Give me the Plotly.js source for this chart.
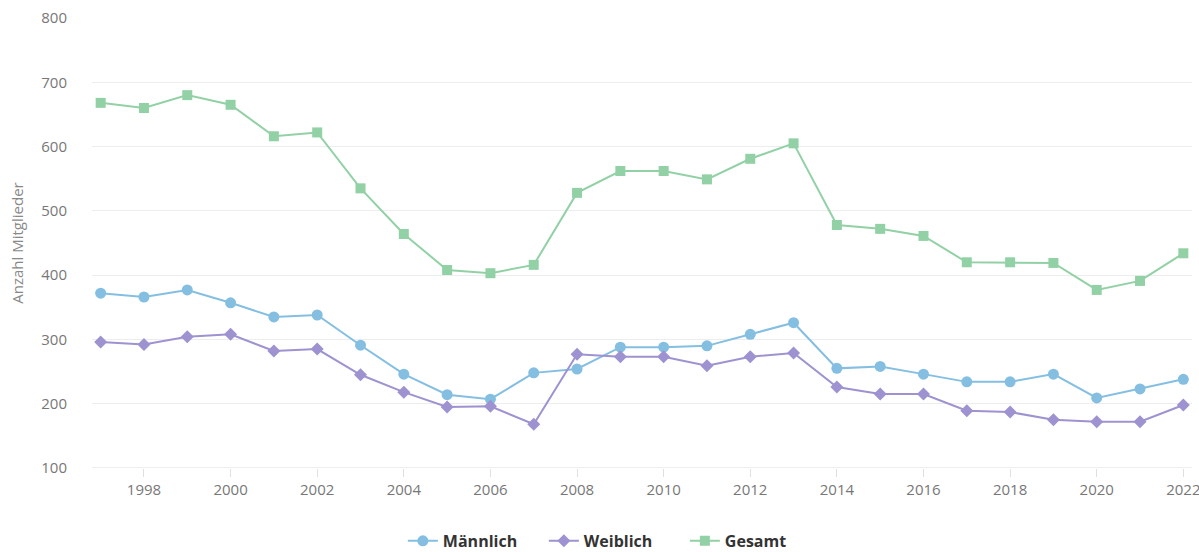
<!DOCTYPE html>
<html>
<head>
<meta charset="utf-8">
<script src="https://cdn.plot.ly/plotly-3.0.1.min.js"></script>
<style>html,body{margin:0;padding:0;background:#fff;}#chart{width:1199px;height:552px;}</style>
</head>
<body>
<div id="chart"></div>
<script>
const years = [1997,1998,1999,2000,2001,2002,2003,2004,2005,2006,2007,2008,2009,2010,2011,2012,2013,2014,2015,2016,2017,2018,2019,2020,2021,2022];
const maennlich = [372,366,377,357,335,338,291,246,214,207,248,254,288,288,290,308,326,255,258,246,234,234,246,209,223,238];
const weiblich = [296,292,304,308,282,285,245,218,195,196,168,277,273,273,259,273,279,226,215,215,189,187,175,172,172,198];
const gesamt = [668,660,680,665,616,622,535,464,408,403,416,528,562,562,549,581,605,478,472,461,420,420,419,377,391,434];
const xTicks = [1998,2000,2002,2004,2006,2008,2010,2012,2014,2016,2018,2020,2022];
const yTicks = [100,200,300,400,500,600,700,800];

const font = "'Open Sans', 'DejaVu Sans', sans-serif";
function tr(name, y, color, symbol, size) {
  return {x: years, y: y, name: name, type: 'scatter', mode: 'lines+markers', cliponaxis: false,
    line: {color: color, width: 2}, marker: {color: color, symbol: symbol, size: size}};
}
const data = [
  tr('Männlich', maennlich, '#84bfe2', 'circle', 11),
  tr('Weiblich', weiblich, '#9e92d0', 'diamond', 10),
  tr('Gesamt', gesamt, '#92d1a5', 'square', 10)
];
const layout = {
  width: 1199, height: 552,
  margin: {l: 92, r: 7, t: 18, b: 84, autoexpand: false},
  paper_bgcolor: '#fff', plot_bgcolor: '#fff',
  showlegend: true,
  legend: {orientation: 'h', xref: 'container', yref: 'container', x: 0.336, xanchor: 'left', y: 0.02, yanchor: 'middle',
    font: {family: font, size: 16, color: '#333', weight: 'bold'}, itemwidth: 30, entrywidth: 96, tracegroupgap: 0},
  xaxis: {range: [1996.8, 2022.2], tickvals: xTicks, ticktext: xTicks.map(String), automargin: false,
    showgrid: false, zeroline: false, showline: false, ticklabeloverflow: 'allow',
    ticks: 'outside', ticklen: 8, tickcolor: '#e0e0e0',
    tickfont: {family: font, size: 15, color: '#777'}},
  yaxis: {range: [100, 800], tickvals: yTicks, ticktext: yTicks.map(String), automargin: false,
    showgrid: true, gridcolor: '#ededed', gridwidth: 1, zeroline: false, showline: false,
    ticks: '', ticklabelstandoff: 24, ticklabeloverflow: 'allow',
    tickfont: {family: font, size: 15, color: '#777'},
    title: {text: 'Anzahl Mitglieder', font: {family: font, size: 15, color: '#888'}, standoff: 14}},
  shapes: [{type: 'line', xref: 'paper', yref: 'y', x0: 0, x1: 1, y0: 100, y1: 100,
    line: {color: '#dcdcdc', width: 1}}]
};
Plotly.newPlot('chart', data, layout, {displayModeBar: false, staticPlot: true});
</script>
</body>
</html>
